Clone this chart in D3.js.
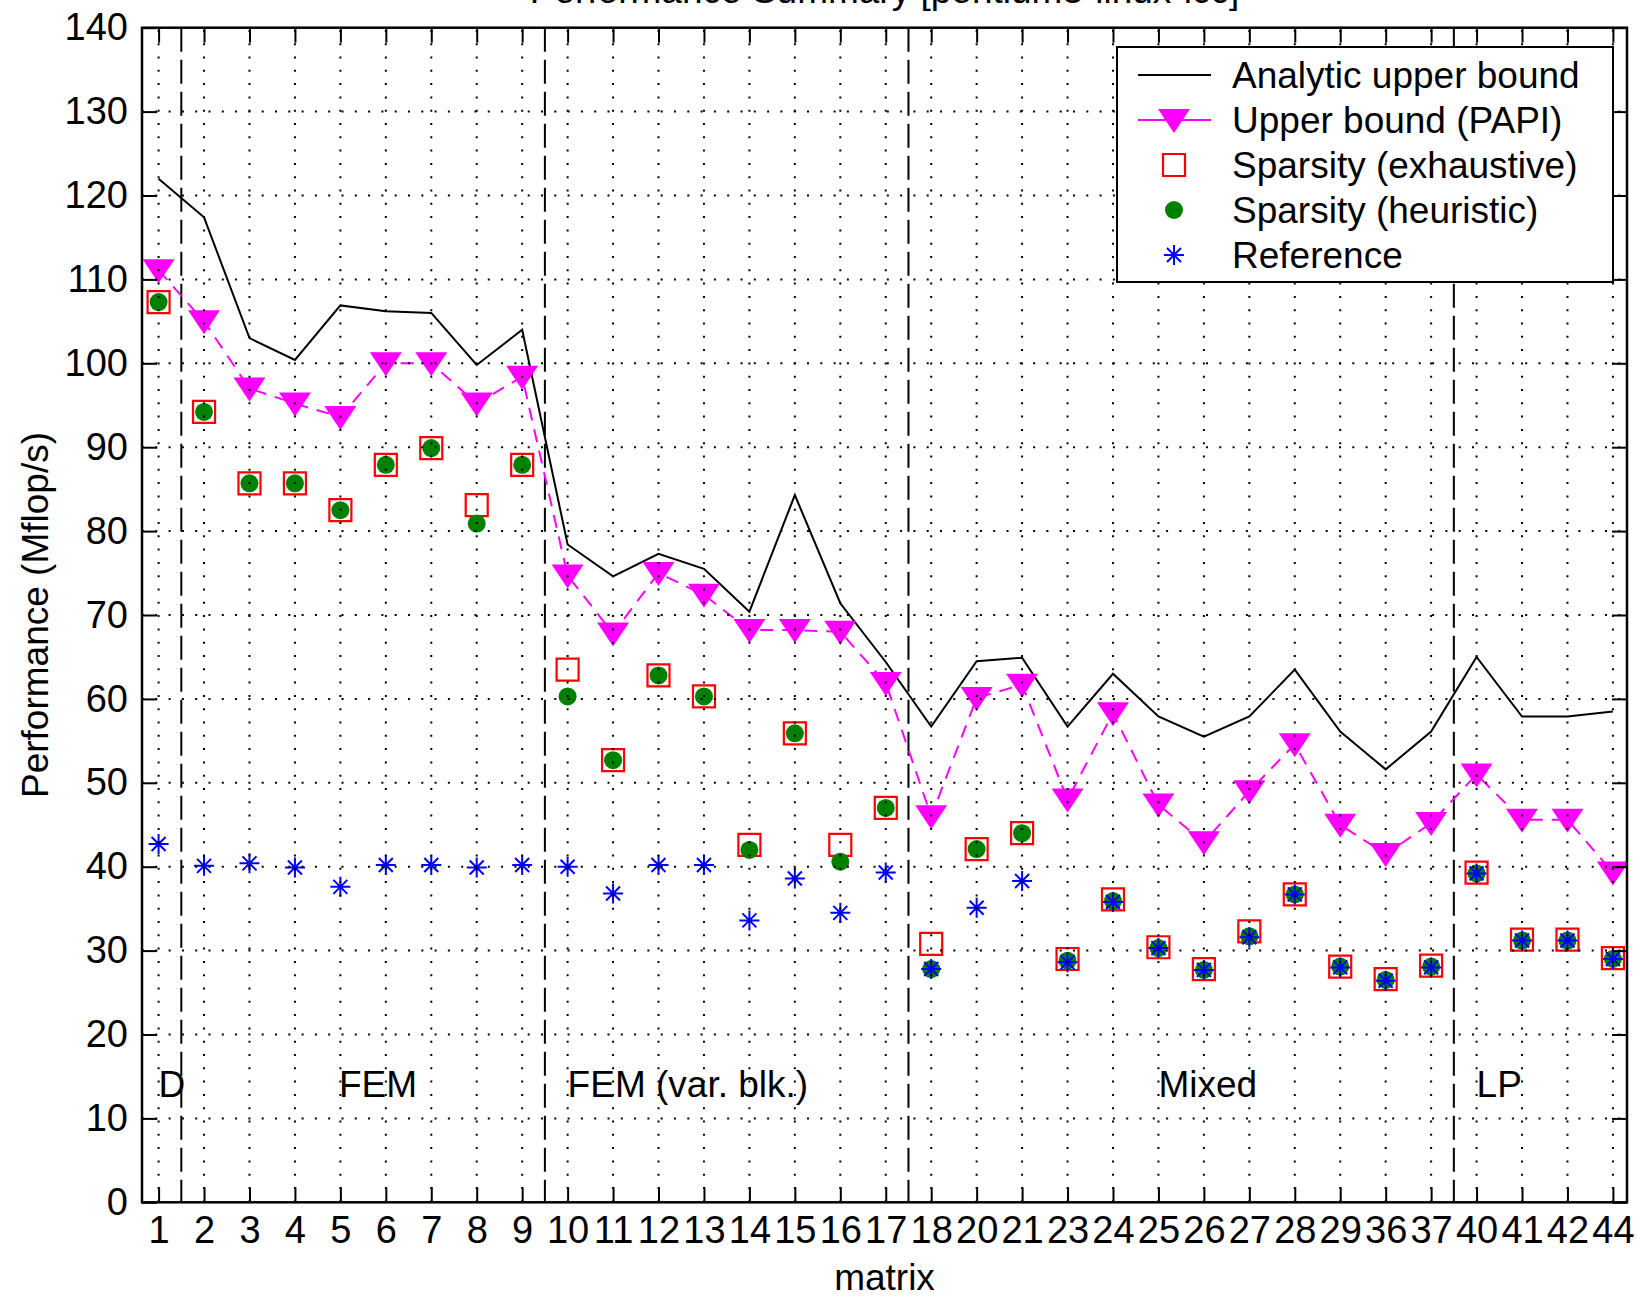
<!DOCTYPE html>
<html>
<head>
<meta charset="utf-8">
<script src="https://cdn.jsdelivr.net/npm/d3@7"></script>
<style>
  html, body { margin: 0; padding: 0; background: #fff; }
  svg { display: block; }
  text { font-family: "Liberation Sans", Arial, Helvetica, sans-serif; fill: #000; }
</style>
</head>
<body>
<svg id="chart" width="1637" height="1298"></svg>
<script>
// Matrix identifiers along the x axis
const matrices = ["1","2","3","4","5","6","7","8","9","10","11","12","13","14","15","16","17",
                  "18","20","21","23","24","25","26","27","28","29","36","37","40","41","42","44"];

// Performance in Mflop/s, one value per matrix
const analyticBound = [122.0,117.4,103.0,100.4,106.9,106.2,106.0,99.8,104.0,
                       78.4,74.6,77.3,75.5,70.4,84.3,71.4,64.4,
                       56.7,64.5,64.9,56.7,63.0,57.9,55.5,57.9,63.5,56.1,51.6,56.1,
                       65.0,57.9,57.9,58.5];
const papiBound = [111.1,105.0,97.0,95.2,93.6,100.0,100.0,95.2,98.4,
                   74.7,67.8,75.0,72.4,68.2,68.2,68.0,61.9,
                   46.0,60.1,61.7,48.0,58.3,47.4,42.9,49.0,54.6,45.0,41.5,45.2,
                   51.0,45.6,45.6,39.3];
const sparsityExhaustive = [107.3,94.2,85.7,85.7,82.5,87.9,89.9,83.1,87.9,
                            63.5,52.7,62.8,60.3,42.6,55.9,42.6,47.0,
                            30.8,42.1,44.0,29.0,36.1,30.4,27.8,32.3,36.7,28.1,26.6,28.2,
                            39.3,31.3,31.3,29.1];
const sparsityHeuristic = [107.3,94.2,85.7,85.7,82.5,87.9,89.9,80.9,87.9,
                           60.3,52.7,62.8,60.3,42.0,55.9,40.6,47.0,
                           27.8,42.1,44.0,28.8,35.9,30.3,27.7,31.7,36.7,28.1,26.5,28.1,
                           39.2,31.2,31.2,29.0];
const referenceImpl = [42.7,40.1,40.4,39.9,37.6,40.2,40.2,39.9,40.2,
                       40.0,36.8,40.2,40.2,33.6,38.6,34.5,39.3,
                       27.8,35.1,38.3,28.6,35.8,30.3,27.7,31.6,36.7,28.0,26.4,28.0,
                       39.2,31.2,31.2,29.0];

// Matrix groups: boundaries (between matrix positions) and labels
const groupBoundaries = [1.5, 9.5, 17.5, 29.5];
const groupLabels = ["D", "FEM", "FEM (var. blk.)", "Mixed", "LP"];
const groupLabelAt = [1.0, 4.97, 10.0, 23.0, 30.0];
const groupLabelValue = 12.6;

const yTicks = d3.range(0, 141, 10);
const seriesNames = ["Analytic upper bound", "Upper bound (PAPI)", "Sparsity (exhaustive)",
                     "Sparsity (heuristic)", "Reference"];

const svg = d3.select("#chart");
const plot = { left: 142, right: 1627, top: 27.7, bottom: 1202.3 };

const x = d3.scaleLinear().domain([0.635, 33.31]).range([plot.left, plot.right]);
const y = d3.scaleLinear().domain([0, 140]).range([plot.bottom, plot.top]);
const pos = d3.range(1, matrices.length + 1);

const FONT = 37;
const TICKLEN = 15;

// Title (sits at the very top edge of the canvas)
svg.append("text")
  .attr("x", (plot.left + plot.right) / 2).attr("y", 3)
  .attr("text-anchor", "middle").style("font-size", FONT + "px")
  .text("Performance Summary [pentium3-linux-icc]");

// Plot background
svg.append("rect")
  .attr("x", plot.left).attr("y", plot.top)
  .attr("width", plot.right - plot.left).attr("height", plot.bottom - plot.top)
  .attr("fill", "#fff");

const clipId = "plotclip";
svg.append("clipPath").attr("id", clipId).append("rect")
  .attr("x", plot.left).attr("y", plot.top)
  .attr("width", plot.right - plot.left).attr("height", plot.bottom - plot.top);

const data = svg.append("g").attr("clip-path", `url(#${clipId})`);

// Group boundaries (long dashes)
data.append("g").selectAll("line").data(groupBoundaries).join("line")
  .attr("x1", d => x(d)).attr("x2", d => x(d))
  .attr("y1", plot.top).attr("y2", plot.bottom)
  .attr("stroke", "#000").attr("stroke-width", 2)
  .attr("stroke-dasharray", "24,8");

// Group labels
data.append("g").selectAll("text").data(groupLabels).join("text")
  .attr("x", (d, i) => x(groupLabelAt[i]))
  .attr("y", y(groupLabelValue))
  .style("font-size", FONT + "px")
  .text(d => d);

// Analytic upper bound: solid black line
const line = d3.line().x((d, i) => x(pos[i])).y(d => y(d));
data.append("path").datum(analyticBound)
  .attr("d", line).attr("fill", "none")
  .attr("stroke", "#000").attr("stroke-width", 2);

// PAPI upper bound: dashed magenta line with downward triangles
data.append("path").datum(papiBound)
  .attr("d", line).attr("fill", "none")
  .attr("stroke", "#ff00ff").attr("stroke-width", 2)
  .attr("stroke-dasharray", "13,9");

const triPath = "M-16,-11L16,-11L0,13Z";
const sqPath = "M-11,-11H11V11H-11Z";
const starPath = "M0,-10V10M-10,0H10M-7,-7L7,7M-7,7L7,-7";

data.append("g").selectAll("path").data(papiBound).join("path")
  .attr("transform", (d, i) => `translate(${x(pos[i])},${y(d)})`)
  .attr("d", triPath).attr("fill", "#ff00ff");

// Sparsity exhaustive: open red squares
data.append("g").selectAll("path").data(sparsityExhaustive).join("path")
  .attr("transform", (d, i) => `translate(${x(pos[i])},${y(d)})`)
  .attr("d", sqPath).attr("fill", "none")
  .attr("stroke", "#ff0000").attr("stroke-width", 2.2);

// Sparsity heuristic: filled green circles
data.append("g").selectAll("circle").data(sparsityHeuristic).join("circle")
  .attr("cx", (d, i) => x(pos[i])).attr("cy", d => y(d))
  .attr("r", 9).attr("fill", "#008000");

// Reference: blue asterisks
data.append("g").selectAll("path").data(referenceImpl).join("path")
  .attr("transform", (d, i) => `translate(${x(pos[i])},${y(d)})`)
  .attr("d", starPath).attr("fill", "none")
  .attr("stroke", "#0000ff").attr("stroke-width", 2);

// Dotted grid, drawn over the markers
const grid = data.append("g").attr("stroke", "#000").attr("stroke-width", 2)
  .attr("stroke-dasharray", "2,11.3");
grid.selectAll("line.gx").data(pos).join("line").attr("class", "gx")
  .attr("x1", d => x(d)).attr("x2", d => x(d))
  .attr("y1", plot.bottom).attr("y2", plot.top);
grid.selectAll("line.gy").data(yTicks.slice(1, -1)).join("line").attr("class", "gy")
  .attr("x1", plot.left).attr("x2", plot.right)
  .attr("y1", d => y(d)).attr("y2", d => y(d));

// Axes with inward ticks on all four sides
function styleAxis(g) {
  g.select(".domain").remove();
  g.selectAll(".tick line").attr("stroke", "#000").attr("stroke-width", 2);
  g.selectAll(".tick text").style("font-size", "38px").attr("fill", "#000")
    .style("font-family", '"Liberation Sans", Arial, Helvetica, sans-serif');
}
svg.append("g").attr("transform", `translate(0,${plot.bottom})`)
  .call(d3.axisBottom(x).tickValues(pos).tickFormat(i => matrices[i - 1])
        .tickSize(-TICKLEN).tickPadding(14))
  .call(styleAxis);
svg.append("g").attr("transform", `translate(0,${plot.top})`)
  .call(d3.axisTop(x).tickValues(pos).tickFormat("").tickSize(-TICKLEN))
  .call(styleAxis);
svg.append("g").attr("transform", `translate(${plot.left},0)`)
  .call(d3.axisLeft(y).tickValues(yTicks).tickSize(-TICKLEN).tickPadding(14))
  .call(styleAxis);
svg.append("g").attr("transform", `translate(${plot.right},0)`)
  .call(d3.axisRight(y).tickValues(yTicks).tickFormat("").tickSize(-TICKLEN))
  .call(styleAxis);

// Axes box
svg.append("rect")
  .attr("x", plot.left).attr("y", plot.top)
  .attr("width", plot.right - plot.left).attr("height", plot.bottom - plot.top)
  .attr("fill", "none").attr("stroke", "#000").attr("stroke-width", 2.5);

// Axis labels
svg.append("text")
  .attr("transform", `translate(48,${(plot.top + plot.bottom) / 2}) rotate(-90)`)
  .attr("text-anchor", "middle").style("font-size", FONT + "px")
  .text("Performance (Mflop/s)");
svg.append("text")
  .attr("x", (plot.left + plot.right) / 2).attr("y", 1290)
  .attr("text-anchor", "middle").style("font-size", FONT + "px")
  .text("matrix");

// Legend
const legend = svg.append("g").attr("transform", "translate(1117,47)");
legend.append("rect").attr("width", 496).attr("height", 235)
  .attr("fill", "#fff").attr("stroke", "#000").attr("stroke-width", 2);
const rowY = i => 28 + i * 45;
const sampleX0 = 21, sampleX1 = 94, sampleMid = 57, textX = 115;
const rows = legend.selectAll("g.row").data(seriesNames).join("g")
  .attr("class", "row").attr("transform", (d, i) => `translate(0,${rowY(i)})`);
rows.append("text").attr("x", textX).attr("y", 13)
  .style("font-size", FONT + "px").text(d => d);
rows.each(function(d, i) {
  const g = d3.select(this);
  if (i === 0) {
    g.append("line").attr("x1", sampleX0).attr("x2", sampleX1)
      .attr("stroke", "#000").attr("stroke-width", 2);
  } else if (i === 1) {
    g.append("line").attr("x1", sampleX0).attr("x2", sampleX1)
      .attr("stroke", "#ff00ff").attr("stroke-width", 2);
    g.append("path").attr("transform", `translate(${sampleMid},0)`)
      .attr("d", triPath).attr("fill", "#ff00ff");
  } else if (i === 2) {
    g.append("path").attr("transform", `translate(${sampleMid},0)`)
      .attr("d", sqPath).attr("fill", "none").attr("stroke", "#ff0000").attr("stroke-width", 2.2);
  } else if (i === 3) {
    g.append("circle").attr("cx", sampleMid).attr("r", 9).attr("fill", "#008000");
  } else {
    g.append("path").attr("transform", `translate(${sampleMid},0)`)
      .attr("d", starPath).attr("fill", "none").attr("stroke", "#0000ff").attr("stroke-width", 2);
  }
});
</script>
</body>
</html>
